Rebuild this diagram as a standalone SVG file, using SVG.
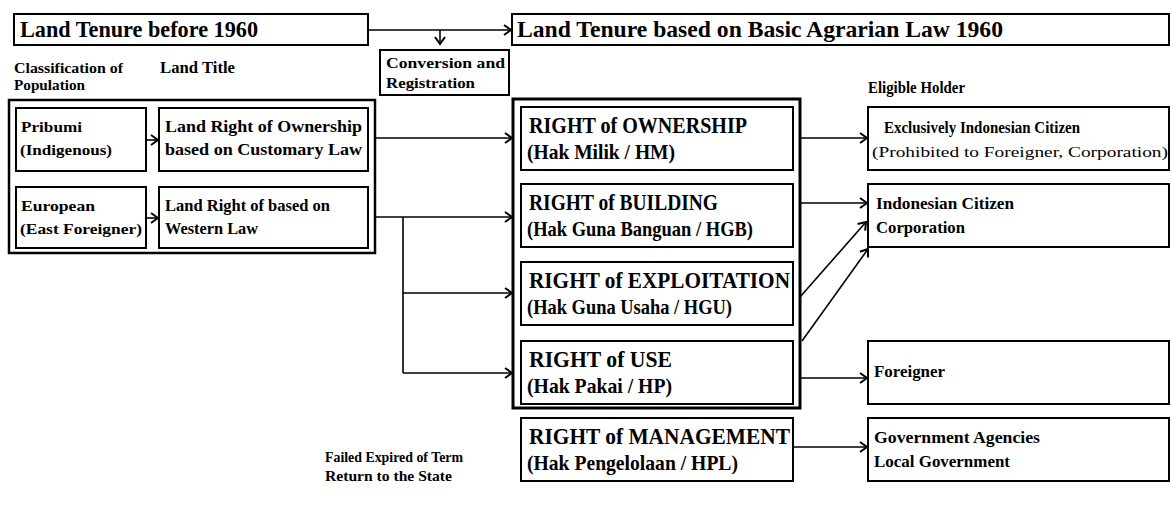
<svg xmlns="http://www.w3.org/2000/svg" width="1171" height="513" viewBox="0 0 1171 513">
<defs>
<marker id="ah" markerUnits="userSpaceOnUse" markerWidth="10" markerHeight="12" refX="7" refY="5" orient="auto" overflow="visible">
<path d="M0,0 L7,5 L0,10" fill="none" stroke="#000" stroke-width="2"/>
</marker>
<style>
.b{fill:#fff;stroke:#000;stroke-width:2}
.ob{fill:none;stroke:#000;stroke-width:2.5}
.tb{fill:#fff;stroke:#000;stroke-width:3}
.c{fill:none;stroke:#000;stroke-width:1.6;marker-end:url(#ah)}
.l{fill:none;stroke:#000;stroke-width:1.6}
text{font-family:"Liberation Serif","Times New Roman",serif;fill:#000}
.t1{font-size:23px;font-weight:bold}
.h{font-size:23px;font-weight:bold}
.h2{font-size:21px;font-weight:bold}
.s{font-size:17px;font-weight:bold}
.r{font-size:15px}
.rb{font-size:15px;font-weight:bold}
.sm{font-size:15.5px;font-weight:bold}
</style>
</defs>
<rect width="1171" height="513" fill="#fff"/>

<g id="tenure-before">
<rect class="b" x="14" y="14" width="354" height="31"/>
<text class="t1" x="20" y="37" textLength="238" lengthAdjust="spacingAndGlyphs">Land Tenure before 1960</text>
</g>
<g id="tenure-after">
<rect class="b" x="512" y="14" width="657" height="31"/>
<text class="t1" x="517" y="37" textLength="486" lengthAdjust="spacingAndGlyphs">Land Tenure based on Basic Agrarian Law 1960</text>
</g>
<g id="conversion">
<rect class="b" x="380" y="50" width="129" height="45"/>
<text class="sm" x="386" y="68" textLength="119" lengthAdjust="spacingAndGlyphs">Conversion and</text>
<text class="sm" x="386" y="88" textLength="89" lengthAdjust="spacingAndGlyphs">Registration</text>
</g>
<g id="labels-left">
<text class="rb" x="14" y="73" textLength="109" lengthAdjust="spacingAndGlyphs">Classification of</text>
<text class="rb" x="14" y="90" textLength="71" lengthAdjust="spacingAndGlyphs">Population</text>
<text class="s" x="160" y="73" textLength="75" lengthAdjust="spacingAndGlyphs">Land Title</text>
</g>
<g id="before-group">
<rect class="ob" x="9" y="100" width="366" height="153"/>
</g>
<g id="pribumi">
<rect class="b" x="16" y="108" width="130" height="63"/>
<text class="sm" x="21" y="132" textLength="61" lengthAdjust="spacingAndGlyphs">Pribumi</text>
<text class="sm" x="20" y="155" textLength="92" lengthAdjust="spacingAndGlyphs">(Indigenous)</text>
</g>
<g id="customary">
<rect class="b" x="159" y="108" width="209" height="63"/>
<text class="s" x="165" y="132" textLength="197" lengthAdjust="spacingAndGlyphs">Land Right of Ownership</text>
<text class="s" x="165" y="155" textLength="197" lengthAdjust="spacingAndGlyphs">based on Customary Law</text>
</g>
<g id="european">
<rect class="b" x="16" y="187" width="130" height="61"/>
<text class="sm" x="21" y="211" textLength="74" lengthAdjust="spacingAndGlyphs">European</text>
<text class="sm" x="20" y="234" textLength="122" lengthAdjust="spacingAndGlyphs">(East Foreigner)</text>
</g>
<g id="western">
<rect class="b" x="159" y="187" width="209" height="61"/>
<text class="s" x="165" y="211" textLength="165" lengthAdjust="spacingAndGlyphs">Land Right of based on</text>
<text class="s" x="165" y="234" textLength="93" lengthAdjust="spacingAndGlyphs">Western Law</text>
</g>

<g id="rights-group">
<rect class="tb" x="513" y="99" width="287" height="309"/>
</g>
<g id="hm">
<rect class="b" x="521" y="107" width="272" height="63"/>
<text class="h" x="529" y="133" textLength="218" lengthAdjust="spacingAndGlyphs">RIGHT of OWNERSHIP</text>
<text class="h2" x="527" y="159" textLength="148" lengthAdjust="spacingAndGlyphs">(Hak Milik / HM)</text>
</g>
<g id="hgb">
<rect class="b" x="521" y="184" width="272" height="63"/>
<text class="h" x="529" y="210" textLength="189" lengthAdjust="spacingAndGlyphs">RIGHT of BUILDING</text>
<text class="h2" x="527" y="236" textLength="226" lengthAdjust="spacingAndGlyphs">(Hak Guna Banguan / HGB)</text>
</g>
<g id="hgu">
<rect class="b" x="521" y="262" width="272" height="63"/>
<text class="h" x="529" y="288" textLength="261" lengthAdjust="spacingAndGlyphs">RIGHT of EXPLOITATION</text>
<text class="h2" x="527" y="314" textLength="205" lengthAdjust="spacingAndGlyphs">(Hak Guna Usaha / HGU)</text>
</g>
<g id="hp">
<rect class="b" x="521" y="341" width="272" height="63"/>
<text class="h" x="529" y="367" textLength="143" lengthAdjust="spacingAndGlyphs">RIGHT of USE</text>
<text class="h2" x="527" y="393" textLength="145" lengthAdjust="spacingAndGlyphs">(Hak Pakai / HP)</text>
</g>
<g id="hpl">
<rect class="b" x="521" y="418" width="272" height="63"/>
<text class="h" x="529" y="444" textLength="261" lengthAdjust="spacingAndGlyphs">RIGHT of MANAGEMENT</text>
<text class="h2" x="527" y="470" textLength="211" lengthAdjust="spacingAndGlyphs">(Hak Pengelolaan / HPL)</text>
</g>

<g id="eligible-label">
<text class="s" x="868" y="93" textLength="97" lengthAdjust="spacingAndGlyphs">Eligible Holder</text>
</g>
<g id="citizen-only">
<rect class="b" x="868" y="107" width="301" height="63"/>
<text class="s" x="884" y="133" textLength="196" lengthAdjust="spacingAndGlyphs">Exclusively Indonesian Citizen</text>
<text class="r" x="872" y="157" textLength="296" lengthAdjust="spacingAndGlyphs">(Prohibited to Foreigner, Corporation)</text>
</g>
<g id="citizen-corp">
<rect class="b" x="868" y="184" width="301" height="63"/>
<text class="s" x="876" y="209" textLength="138" lengthAdjust="spacingAndGlyphs">Indonesian Citizen</text>
<text class="s" x="876" y="233" textLength="89" lengthAdjust="spacingAndGlyphs">Corporation</text>
</g>
<g id="foreigner">
<rect class="b" x="868" y="341" width="301" height="63"/>
<text class="s" x="874" y="377" textLength="71" lengthAdjust="spacingAndGlyphs">Foreigner</text>
</g>
<g id="government">
<rect class="b" x="868" y="418" width="301" height="63"/>
<text class="s" x="874" y="443" textLength="166" lengthAdjust="spacingAndGlyphs">Government Agencies</text>
<text class="s" x="874" y="467" textLength="136" lengthAdjust="spacingAndGlyphs">Local Government</text>
</g>
<g id="failed-note">
<text class="sm" x="325" y="462" textLength="138" lengthAdjust="spacingAndGlyphs">Failed Expired of Term</text>
<text class="sm" x="325" y="481" textLength="127" lengthAdjust="spacingAndGlyphs">Return to the State</text>
</g>

<g id="connectors">
<path class="c" d="M368,30 H511"/>
<path class="c" d="M440,30 V44"/>
<path class="c" d="M146,140 H158"/>
<path class="c" d="M146,218 H158"/>
<path class="c" d="M375,138 H512"/>
<path class="c" d="M375,217 H512"/>
<path class="l" d="M403,217 V373"/>
<path class="c" d="M403,293 H512"/>
<path class="c" d="M403,373 H512"/>
<path class="c" d="M800,138 H867"/>
<path class="c" d="M800,203 H867"/>
<path class="c" d="M800,297 L866,222"/>
<path class="c" d="M802,341 L868,249"/>
<path class="c" d="M800,378 H867"/>
<path class="c" d="M793,447 H867"/>
</g>
</svg>
